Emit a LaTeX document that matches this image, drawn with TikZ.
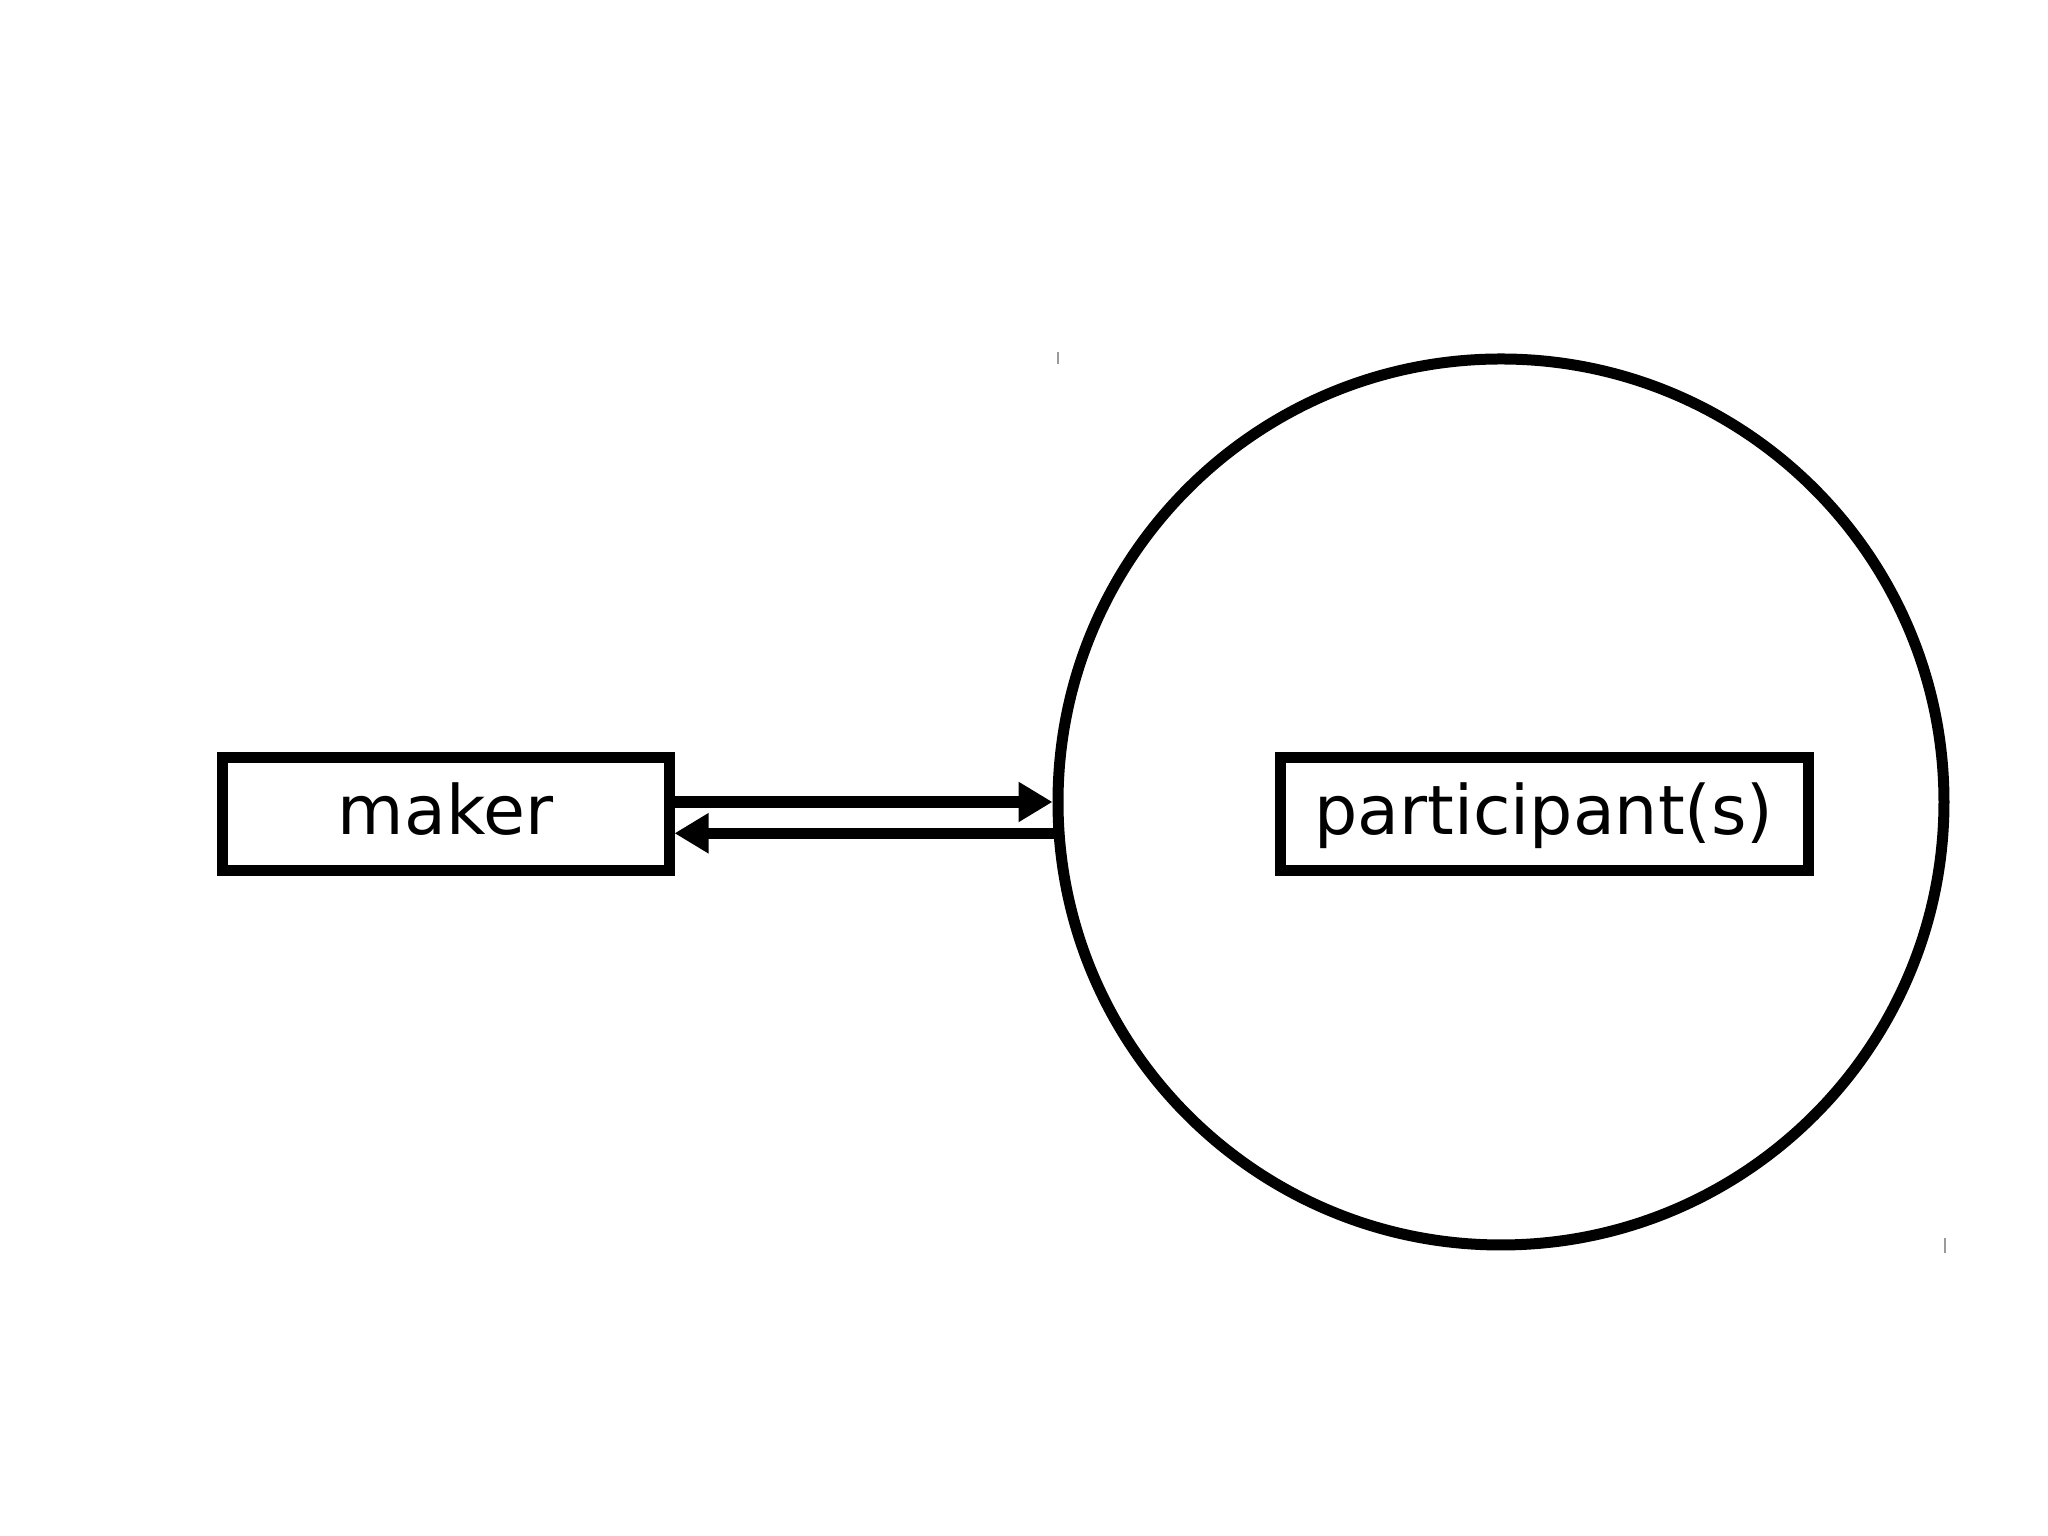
\documentclass[tikz,border=0pt]{standalone}
\usepackage{fontspec}
\setmainfont{DejaVu Sans}
\usepackage{tikz}
\usetikzlibrary{arrows.meta,positioning,calc}
\usepackage{xcolor}
\definecolor{inkblack}{HTML}{000000}
\definecolor{tickgray}{HTML}{9A9A9A}

\begin{document}
\begin{tikzpicture}[
  font=\fontsize{19.4pt}{23pt}\selectfont,
  >={Triangle[length=0.34cm,width=0.38cm]},
  rolebox/.style={
    draw=inkblack,
    fill=white,
    line width=0.11cm,
    minimum height=1.13cm,
    text height=0.52cm,
    text depth=0.11cm,
    inner sep=0pt,
    align=center
  },
  groupring/.style={
    circle,
    draw=inkblack,
    line width=0.11cm,
    minimum size=8.86cm,
    inner sep=0pt
  },
  flowarrow/.style={
    ->,
    line width=0.115cm,
    draw=inkblack
  },
  cornertick/.style={
    draw=tickgray,
    line width=0.02cm
  }
]

  % -------------------------------------------------------------
  % PAGE FRAME
  % -------------------------------------------------------------
  \useasboundingbox (0,0) rectangle (20.48,15.36);

  % -------------------------------------------------------------
  % GROUP OF PARTICIPANTS
  % -------------------------------------------------------------
  \node[groupring] (ring) at (15.01, 7.34) {};
  \node[rolebox, minimum width=5.28cm] (participant) at (15.44, 7.22) {participant(s)};

  % corner marks of the ring's bounding box
  \draw[cornertick] ($(ring.west |- ring.north) + (0.05, 0.01)$) -- ++(0, -0.12);
  \draw[cornertick] ($(ring.east |- ring.south) + (-0.05, 0.12)$) -- ++(0, -0.15);

  % -------------------------------------------------------------
  % MAKER
  % -------------------------------------------------------------
  \node[rolebox, minimum width=4.47cm] (maker) at (4.455, 7.215) {maker};

  % Exchange between maker and group
  \draw[flowarrow] (maker.east |- ring.west) -- (ring.west);
  \draw[flowarrow] (ring.184.4) -- (maker.east |- ring.184.4);

\end{tikzpicture}
\end{document}
